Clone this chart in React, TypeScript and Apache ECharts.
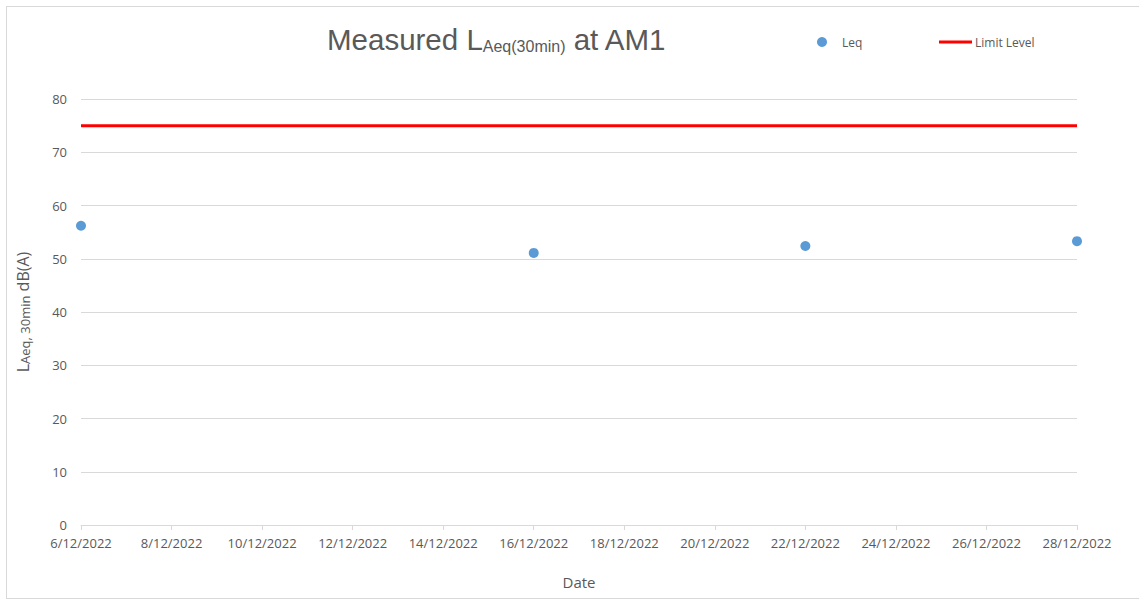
import React, { useEffect, useRef } from "react";
import * as echarts from "echarts";

const leqDates = ["2022-12-06", "2022-12-16", "2022-12-22", "2022-12-28"];
const leqValues = [56.2, 51.1, 52.4, 53.3];
const limitDates = ["2022-12-06", "2022-12-28"];
const limitValues = [75, 75];
const yTicks = [0, 10, 20, 30, 40, 50, 60, 70, 80];

const dayOf = (d: string) => Number(d.split("-")[2]);

export default function App() {
  const ref = useRef<HTMLDivElement>(null);
  useEffect(() => {
    if (!ref.current) return;
    const chart = echarts.init(ref.current, undefined, { renderer: "svg" });
    const font = "'Open Sans', 'Noto Sans', sans-serif";
    const titleFont = "'Liberation Sans', Arial, sans-serif";
    const grey = "#595959";
    chart.setOption({
      animation: false,
      backgroundColor: "#ffffff",
      title: {
        text: "{a|Measured L}{b|Aeq(30min)}{a| at AM1}",
        left: 315,
        top: 7,
        textStyle: {
          fontWeight: "normal",
          rich: {
            a: { fontSize: 29.5, fontWeight: "normal", color: grey, fontFamily: titleFont, verticalAlign: "bottom", lineHeight: 35 },
            b: { fontSize: 16, fontWeight: "normal", color: grey, fontFamily: titleFont, verticalAlign: "bottom", lineHeight: 29 },
          },
        },
      },
      legend: [
        {
          data: [{ name: "Leq", icon: "circle" }],
          left: 805,
          top: 24,
          itemWidth: 10,
          itemHeight: 10,
          textStyle: { color: grey, fontSize: 12, fontFamily: font, padding: [0, 0, 0, 10] },
        },
        {
          data: [{ name: "Limit Level", icon: "rect" }],
          left: 927,
          top: 24,
          itemWidth: 33,
          itemHeight: 3,
          textStyle: { color: grey, fontSize: 12, fontFamily: font, padding: [0, 0, 0, -2] },
        },
      ],
      grid: { left: 74, right: 63, top: 92, bottom: 73, containLabel: false, outerBoundsMode: "none" },
      xAxis: {
        type: "value",
        min: 6,
        max: 28,
        interval: 2,
        name: "Date",
        nameLocation: "middle",
        nameGap: 49,
        nameTextStyle: { color: grey, fontSize: 15, fontFamily: font },
        axisLine: { show: true, lineStyle: { color: "#d9d9d9", width: 1 } },
        axisTick: { show: true, length: 5, lineStyle: { color: "#d9d9d9" } },
        splitLine: { show: false },
        axisLabel: {
          color: grey,
          fontSize: 13,
          fontFamily: font,
          margin: 11,
          formatter: (v: number) => `${v}/12/2022`,
        },
      },
      yAxis: {
        type: "value",
        min: yTicks[0],
        max: yTicks[yTicks.length - 1],
        interval: 10,
        name: "{a|L}{b|Aeq, 30min}{a| dB(A)}",
        nameLocation: "middle",
        nameRotate: 90,
        nameGap: 50,
        nameTextStyle: {
          rich: {
            a: { fontSize: 16, color: grey, fontFamily: font, verticalAlign: "bottom", lineHeight: 22 },
            b: { fontSize: 13, color: grey, fontFamily: font, verticalAlign: "bottom", lineHeight: 20 },
          },
        },
        axisLine: { show: false },
        axisTick: { show: false },
        splitLine: { lineStyle: { color: "#d9d9d9", width: 1 } },
        axisLabel: { color: grey, fontSize: 13, fontFamily: font, margin: 14 },
      },
      series: [
        {
          name: "Leq",
          type: "scatter",
          symbol: "circle",
          symbolSize: 10,
          itemStyle: { color: "#5b9bd5", opacity: 1 },
          data: leqDates.map((d, i) => [dayOf(d), leqValues[i]]),
        },
        {
          name: "Limit Level",
          type: "line",
          showSymbol: false,
          symbol: "none",
          lineStyle: { color: "#ff0000", width: 3 },
          itemStyle: { color: "#ff0000" },
          data: limitDates.map((d, i) => [dayOf(d), limitValues[i]]),
        },
      ],
    });
    return () => chart.dispose();
  }, []);
  return (
    <div
      style={{
        position: "absolute",
        left: 6,
        top: 6,
        width: 1133,
        height: 591,
        border: "1px solid #d9d9d9",
        background: "#fff",
      }}
    >
      <div ref={ref} style={{ width: 1133, height: 591 }} />
    </div>
  );
}
